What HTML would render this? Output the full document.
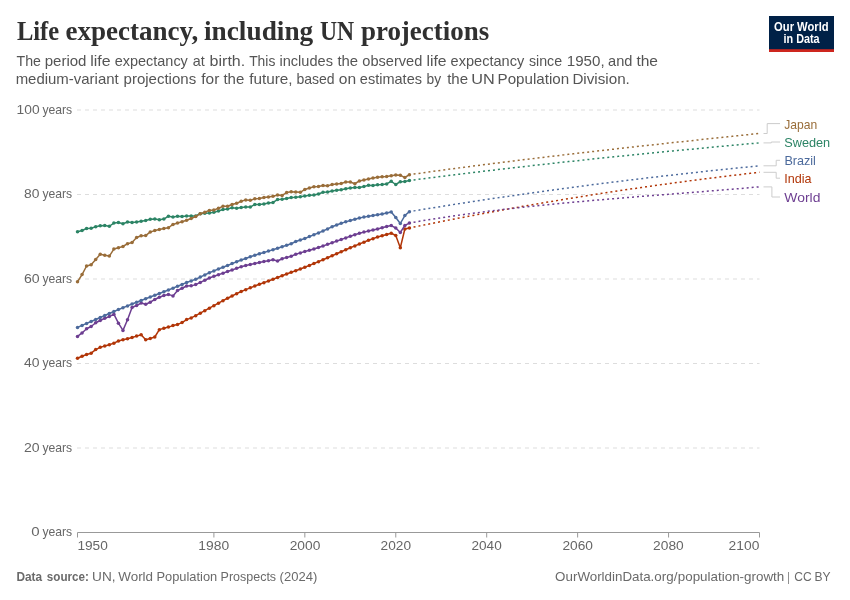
<!DOCTYPE html>
<html lang="en"><head><meta charset="utf-8"><title>Life expectancy, including UN projections</title>
<style>
html,body{margin:0;padding:0;background:#fff;}
body{width:850px;height:600px;overflow:hidden;font-family:"Liberation Sans",sans-serif;}
svg{display:block;}
.sans{font-family:"Liberation Sans",sans-serif;}
.serif{font-family:"Liberation Serif",serif;}
.ax{font-size:13px;fill:#666;}
.ft{font-size:13px;fill:#6a6a6a;}
.lb{font-size:13px;}
</style></head><body>
<svg width="850" height="600" viewBox="0 0 850 600" class="sans">
<rect width="850" height="600" fill="#fff"/>
<g><rect x="769" y="16" width="65" height="36" fill="#002147"/><rect x="769" y="49.2" width="65" height="2.8" fill="#ce261e"/>
<text x="774.1" y="30.7" font-size="11.9" font-weight="bold" fill="#fff" textLength="54.5" lengthAdjust="spacingAndGlyphs">Our World</text>
<text x="783.5" y="42.7" font-size="11.9" font-weight="bold" fill="#fff" textLength="36.1" lengthAdjust="spacingAndGlyphs">in Data</text></g>
<line x1="77" x2="759.5" y1="448" y2="448" stroke="#ddd" stroke-width="1" stroke-dasharray="4 4"/>
<line x1="77" x2="759.5" y1="363.5" y2="363.5" stroke="#ddd" stroke-width="1" stroke-dasharray="4 4"/>
<line x1="77" x2="759.5" y1="279" y2="279" stroke="#ddd" stroke-width="1" stroke-dasharray="4 4"/>
<line x1="77" x2="759.5" y1="194.5" y2="194.5" stroke="#ddd" stroke-width="1" stroke-dasharray="4 4"/>
<line x1="77" x2="759.5" y1="110" y2="110" stroke="#ddd" stroke-width="1" stroke-dasharray="4 4"/>
<path d="M77.5 537.5V532.5H759.5V537.5" fill="none" stroke="#999" stroke-width="1"/>
<line x1="213.9" x2="213.9" y1="532.5" y2="537.5" stroke="#999"/>
<line x1="304.83" x2="304.83" y1="532.5" y2="537.5" stroke="#999"/>
<line x1="395.77" x2="395.77" y1="532.5" y2="537.5" stroke="#999"/>
<line x1="486.7" x2="486.7" y1="532.5" y2="537.5" stroke="#999"/>
<line x1="577.63" x2="577.63" y1="532.5" y2="537.5" stroke="#999"/>
<line x1="668.57" x2="668.57" y1="532.5" y2="537.5" stroke="#999"/>
<path d="M409.41 228 L413.95 227.04 L418.5 226.12 L423.05 225.19 L427.59 224.28 L432.14 223.37 L436.69 222.46 L441.23 221.56 L445.78 220.67 L450.33 219.78 L454.87 218.9 L459.42 218.02 L463.97 217.15 L468.51 216.29 L473.06 215.43 L477.61 214.57 L482.15 213.72 L486.7 212.88 L491.25 212.04 L495.79 211.21 L500.34 210.39 L504.89 209.57 L509.43 208.75 L513.98 207.94 L518.53 207.14 L523.07 206.34 L527.62 205.55 L532.17 204.76 L536.71 203.98 L541.26 203.2 L545.81 202.43 L550.35 201.66 L554.9 200.9 L559.45 200.15 L563.99 199.4 L568.54 198.66 L573.09 197.92 L577.63 197.19 L582.18 196.46 L586.73 195.74 L591.27 195.02 L595.82 194.31 L600.37 193.61 L604.91 192.91 L609.46 192.21 L614.01 191.52 L618.55 190.84 L623.1 190.16 L627.65 189.49 L632.19 188.82 L636.74 188.16 L641.29 187.5 L645.83 186.85 L650.38 186.2 L654.93 185.56 L659.47 184.93 L664.02 184.3 L668.57 183.67 L673.11 183.05 L677.66 182.44 L682.21 181.83 L686.75 181.23 L691.3 180.63 L695.85 180.04 L700.39 179.45 L704.94 178.86 L709.49 178.29 L714.03 177.72 L718.58 177.15 L723.13 176.59 L727.67 176.03 L732.22 175.48 L736.77 174.93 L741.31 174.39 L745.86 173.86 L750.41 173.33 L754.95 172.8 L759.5 172.28" fill="none" stroke="#B13507" stroke-width="1.5" stroke-dasharray="2 3" stroke-dashoffset="0.8"/>
<path d="M409.41 223.05 L413.95 222.18 L418.5 221.42 L423.05 220.66 L427.59 219.92 L432.14 219.2 L436.69 218.49 L441.23 217.79 L445.78 217.11 L450.33 216.43 L454.87 215.78 L459.42 215.13 L463.97 214.49 L468.51 213.87 L473.06 213.26 L477.61 212.66 L482.15 212.07 L486.7 211.49 L491.25 210.92 L495.79 210.37 L500.34 209.82 L504.89 209.28 L509.43 208.75 L513.98 208.23 L518.53 207.72 L523.07 207.22 L527.62 206.73 L532.17 206.25 L536.71 205.77 L541.26 205.3 L545.81 204.84 L550.35 204.39 L554.9 203.94 L559.45 203.5 L563.99 203.06 L568.54 202.64 L573.09 202.21 L577.63 201.8 L582.18 201.39 L586.73 200.98 L591.27 200.58 L595.82 200.18 L600.37 199.79 L604.91 199.4 L609.46 199.02 L614.01 198.64 L618.55 198.26 L623.1 197.89 L627.65 197.52 L632.19 197.15 L636.74 196.78 L641.29 196.42 L645.83 196.06 L650.38 195.69 L654.93 195.33 L659.47 194.98 L664.02 194.62 L668.57 194.26 L673.11 193.9 L677.66 193.55 L682.21 193.19 L686.75 192.83 L691.3 192.47 L695.85 192.12 L700.39 191.75 L704.94 191.39 L709.49 191.03 L714.03 190.66 L718.58 190.29 L723.13 189.92 L727.67 189.55 L732.22 189.17 L736.77 188.79 L741.31 188.41 L745.86 188.02 L750.41 187.63 L754.95 187.24 L759.5 186.84" fill="none" stroke="#6D3E91" stroke-width="1.5" stroke-dasharray="2 3" stroke-dashoffset="0.8"/>
<path d="M409.41 211.65 L413.95 210.88 L418.5 210.14 L423.05 209.4 L427.59 208.66 L432.14 207.93 L436.69 207.2 L441.23 206.48 L445.78 205.76 L450.33 205.05 L454.87 204.34 L459.42 203.63 L463.97 202.93 L468.51 202.23 L473.06 201.54 L477.61 200.85 L482.15 200.16 L486.7 199.48 L491.25 198.8 L495.79 198.13 L500.34 197.46 L504.89 196.79 L509.43 196.13 L513.98 195.47 L518.53 194.82 L523.07 194.17 L527.62 193.53 L532.17 192.89 L536.71 192.25 L541.26 191.61 L545.81 190.98 L550.35 190.36 L554.9 189.74 L559.45 189.12 L563.99 188.51 L568.54 187.9 L573.09 187.29 L577.63 186.69 L582.18 186.09 L586.73 185.5 L591.27 184.91 L595.82 184.32 L600.37 183.74 L604.91 183.16 L609.46 182.59 L614.01 182.02 L618.55 181.45 L623.1 180.89 L627.65 180.33 L632.19 179.77 L636.74 179.22 L641.29 178.67 L645.83 178.13 L650.38 177.59 L654.93 177.06 L659.47 176.52 L664.02 176 L668.57 175.47 L673.11 174.95 L677.66 174.44 L682.21 173.92 L686.75 173.41 L691.3 172.91 L695.85 172.41 L700.39 171.91 L704.94 171.42 L709.49 170.93 L714.03 170.44 L718.58 169.96 L723.13 169.48 L727.67 169 L732.22 168.53 L736.77 168.06 L741.31 167.6 L745.86 167.14 L750.41 166.68 L754.95 166.23 L759.5 165.78" fill="none" stroke="#4C6A9C" stroke-width="1.5" stroke-dasharray="2 3" stroke-dashoffset="0.8"/>
<path d="M409.41 180.6 L413.95 179.95 L418.5 179.36 L423.05 178.77 L427.59 178.19 L432.14 177.61 L436.69 177.03 L441.23 176.45 L445.78 175.88 L450.33 175.32 L454.87 174.75 L459.42 174.19 L463.97 173.63 L468.51 173.08 L473.06 172.53 L477.61 171.98 L482.15 171.43 L486.7 170.89 L491.25 170.35 L495.79 169.81 L500.34 169.28 L504.89 168.75 L509.43 168.22 L513.98 167.7 L518.53 167.18 L523.07 166.66 L527.62 166.14 L532.17 165.63 L536.71 165.12 L541.26 164.61 L545.81 164.1 L550.35 163.6 L554.9 163.1 L559.45 162.6 L563.99 162.11 L568.54 161.62 L573.09 161.13 L577.63 160.64 L582.18 160.15 L586.73 159.67 L591.27 159.19 L595.82 158.71 L600.37 158.24 L604.91 157.76 L609.46 157.29 L614.01 156.83 L618.55 156.36 L623.1 155.9 L627.65 155.43 L632.19 154.97 L636.74 154.52 L641.29 154.06 L645.83 153.61 L650.38 153.16 L654.93 152.71 L659.47 152.26 L664.02 151.81 L668.57 151.37 L673.11 150.93 L677.66 150.49 L682.21 150.05 L686.75 149.61 L691.3 149.18 L695.85 148.75 L700.39 148.32 L704.94 147.89 L709.49 147.46 L714.03 147.03 L718.58 146.61 L723.13 146.19 L727.67 145.77 L732.22 145.35 L736.77 144.93 L741.31 144.51 L745.86 144.1 L750.41 143.68 L754.95 143.27 L759.5 142.86" fill="none" stroke="#2C8465" stroke-width="1.5" stroke-dasharray="2 3" stroke-dashoffset="0.8"/>
<path d="M409.41 174.75 L413.95 174.04 L418.5 173.41 L423.05 172.78 L427.59 172.15 L432.14 171.53 L436.69 170.91 L441.23 170.3 L445.78 169.69 L450.33 169.08 L454.87 168.47 L459.42 167.87 L463.97 167.27 L468.51 166.68 L473.06 166.09 L477.61 165.5 L482.15 164.91 L486.7 164.33 L491.25 163.75 L495.79 163.18 L500.34 162.6 L504.89 162.03 L509.43 161.47 L513.98 160.9 L518.53 160.34 L523.07 159.78 L527.62 159.23 L532.17 158.67 L536.71 158.12 L541.26 157.58 L545.81 157.03 L550.35 156.49 L554.9 155.95 L559.45 155.41 L563.99 154.87 L568.54 154.34 L573.09 153.81 L577.63 153.28 L582.18 152.75 L586.73 152.23 L591.27 151.71 L595.82 151.19 L600.37 150.67 L604.91 150.15 L609.46 149.64 L614.01 149.13 L618.55 148.62 L623.1 148.11 L627.65 147.6 L632.19 147.09 L636.74 146.59 L641.29 146.09 L645.83 145.59 L650.38 145.09 L654.93 144.59 L659.47 144.1 L664.02 143.6 L668.57 143.11 L673.11 142.61 L677.66 142.12 L682.21 141.63 L686.75 141.15 L691.3 140.66 L695.85 140.17 L700.39 139.69 L704.94 139.2 L709.49 138.72 L714.03 138.24 L718.58 137.75 L723.13 137.27 L727.67 136.79 L732.22 136.31 L736.77 135.83 L741.31 135.36 L745.86 134.88 L750.41 134.4 L754.95 133.93 L759.5 133.45" fill="none" stroke="#996D39" stroke-width="1.5" stroke-dasharray="2 3" stroke-dashoffset="0.8"/>
<g fill="#B13507" stroke="none"><path d="M77.5 358.3 L82.05 356.2 L86.59 354.55 L91.14 353.2 L95.69 349.6 L100.23 347.35 L104.78 346 L109.33 344.8 L113.87 343.15 L118.42 341.05 L122.97 339.85 L127.51 338.8 L132.06 337.45 L136.61 336.1 L141.15 334.75 L145.7 339.7 L150.25 338.5 L154.79 337 L159.34 329.65 L163.89 328.3 L168.43 327.1 L172.98 325.6 L177.53 324.4 L182.07 322.6 L186.62 319.6 L191.17 317.92 L195.71 315.63 L200.26 313.13 L204.81 310.63 L209.35 308.13 L213.9 305.63 L218.45 303.13 L222.99 300.63 L227.54 298.23 L232.09 295.96 L236.63 293.68 L241.18 291.48 L245.73 289.66 L250.27 287.84 L254.82 286.02 L259.37 284.32 L263.91 282.64 L268.46 280.96 L273.01 279.25 L277.55 277.52 L282.1 275.79 L286.65 274.04 L291.19 272.22 L295.74 270.75 L300.29 269.02 L304.83 267.3 L309.38 265.43 L313.93 263.55 L318.47 261.68 L323.02 259.8 L327.57 257.77 L332.11 255.75 L336.66 253.72 L341.21 251.7 L345.75 249.75 L350.3 247.8 L354.85 245.93 L359.39 244.05 L363.94 242.18 L368.49 240.3 L373.03 238.65 L377.58 237 L382.13 235.72 L386.67 234.45 L391.22 233.25 L395.77 235.5 L400.31 247.8 L404.86 229.05 L409.41 228" fill="none" stroke="#B13507" stroke-width="1.5" stroke-linejoin="round"/>
<circle cx="77.5" cy="358.3" r="1.75"/><circle cx="82.05" cy="356.2" r="1.75"/><circle cx="86.59" cy="354.55" r="1.75"/><circle cx="91.14" cy="353.2" r="1.75"/><circle cx="95.69" cy="349.6" r="1.75"/><circle cx="100.23" cy="347.35" r="1.75"/><circle cx="104.78" cy="346" r="1.75"/><circle cx="109.33" cy="344.8" r="1.75"/><circle cx="113.87" cy="343.15" r="1.75"/><circle cx="118.42" cy="341.05" r="1.75"/><circle cx="122.97" cy="339.85" r="1.75"/><circle cx="127.51" cy="338.8" r="1.75"/><circle cx="132.06" cy="337.45" r="1.75"/><circle cx="136.61" cy="336.1" r="1.75"/><circle cx="141.15" cy="334.75" r="1.75"/><circle cx="145.7" cy="339.7" r="1.75"/><circle cx="150.25" cy="338.5" r="1.75"/><circle cx="154.79" cy="337" r="1.75"/><circle cx="159.34" cy="329.65" r="1.75"/><circle cx="163.89" cy="328.3" r="1.75"/><circle cx="168.43" cy="327.1" r="1.75"/><circle cx="172.98" cy="325.6" r="1.75"/><circle cx="177.53" cy="324.4" r="1.75"/><circle cx="182.07" cy="322.6" r="1.75"/><circle cx="186.62" cy="319.6" r="1.75"/><circle cx="191.17" cy="317.92" r="1.75"/><circle cx="195.71" cy="315.63" r="1.75"/><circle cx="200.26" cy="313.13" r="1.75"/><circle cx="204.81" cy="310.63" r="1.75"/><circle cx="209.35" cy="308.13" r="1.75"/><circle cx="213.9" cy="305.63" r="1.75"/><circle cx="218.45" cy="303.13" r="1.75"/><circle cx="222.99" cy="300.63" r="1.75"/><circle cx="227.54" cy="298.23" r="1.75"/><circle cx="232.09" cy="295.96" r="1.75"/><circle cx="236.63" cy="293.68" r="1.75"/><circle cx="241.18" cy="291.48" r="1.75"/><circle cx="245.73" cy="289.66" r="1.75"/><circle cx="250.27" cy="287.84" r="1.75"/><circle cx="254.82" cy="286.02" r="1.75"/><circle cx="259.37" cy="284.32" r="1.75"/><circle cx="263.91" cy="282.64" r="1.75"/><circle cx="268.46" cy="280.96" r="1.75"/><circle cx="273.01" cy="279.25" r="1.75"/><circle cx="277.55" cy="277.52" r="1.75"/><circle cx="282.1" cy="275.79" r="1.75"/><circle cx="286.65" cy="274.04" r="1.75"/><circle cx="291.19" cy="272.22" r="1.75"/><circle cx="295.74" cy="270.75" r="1.75"/><circle cx="300.29" cy="269.02" r="1.75"/><circle cx="304.83" cy="267.3" r="1.75"/><circle cx="309.38" cy="265.43" r="1.75"/><circle cx="313.93" cy="263.55" r="1.75"/><circle cx="318.47" cy="261.68" r="1.75"/><circle cx="323.02" cy="259.8" r="1.75"/><circle cx="327.57" cy="257.77" r="1.75"/><circle cx="332.11" cy="255.75" r="1.75"/><circle cx="336.66" cy="253.72" r="1.75"/><circle cx="341.21" cy="251.7" r="1.75"/><circle cx="345.75" cy="249.75" r="1.75"/><circle cx="350.3" cy="247.8" r="1.75"/><circle cx="354.85" cy="245.93" r="1.75"/><circle cx="359.39" cy="244.05" r="1.75"/><circle cx="363.94" cy="242.18" r="1.75"/><circle cx="368.49" cy="240.3" r="1.75"/><circle cx="373.03" cy="238.65" r="1.75"/><circle cx="377.58" cy="237" r="1.75"/><circle cx="382.13" cy="235.72" r="1.75"/><circle cx="386.67" cy="234.45" r="1.75"/><circle cx="391.22" cy="233.25" r="1.75"/><circle cx="395.77" cy="235.5" r="1.75"/><circle cx="400.31" cy="247.8" r="1.75"/><circle cx="404.86" cy="229.05" r="1.75"/><circle cx="409.41" cy="228" r="1.75"/>
</g>
<g fill="#6D3E91" stroke="none"><path d="M77.5 336.4 L82.05 332.95 L86.59 328.75 L91.14 326.5 L95.69 322.75 L100.23 320.5 L104.78 318.25 L109.33 316.6 L113.87 314.2 L118.42 323.2 L122.97 330.4 L127.51 319.75 L132.06 307.45 L136.61 305.5 L141.15 303.1 L145.7 304.3 L150.25 302.2 L154.79 299.5 L159.34 297.25 L163.89 295.45 L168.43 294.4 L172.98 295.9 L177.53 290.5 L182.07 288.25 L186.62 286 L191.17 285.86 L195.71 284.6 L200.26 282.41 L204.81 280.23 L209.35 278.05 L213.9 276.31 L218.45 274.72 L222.99 273.13 L227.54 271.54 L232.09 269.94 L236.63 268.35 L241.18 266.8 L245.73 265.43 L250.27 264.4 L254.82 263.4 L259.37 262.5 L263.91 261.6 L268.46 260.7 L273.01 259.8 L277.55 261 L282.1 258.8 L286.65 257.4 L291.19 256.22 L295.74 254.25 L300.29 252.9 L304.83 251.55 L309.38 250.28 L313.93 249 L318.47 247.5 L323.02 246 L327.57 244.35 L332.11 242.7 L336.66 241.12 L341.21 239.55 L345.75 237.9 L350.3 236.25 L354.85 234.75 L359.39 233.25 L363.94 232.12 L368.49 231 L373.03 229.95 L377.58 228.9 L382.13 227.7 L386.67 226.5 L391.22 225.6 L395.77 228 L400.31 232.5 L404.86 225.45 L409.41 223.05" fill="none" stroke="#6D3E91" stroke-width="1.5" stroke-linejoin="round"/>
<circle cx="77.5" cy="336.4" r="1.75"/><circle cx="82.05" cy="332.95" r="1.75"/><circle cx="86.59" cy="328.75" r="1.75"/><circle cx="91.14" cy="326.5" r="1.75"/><circle cx="95.69" cy="322.75" r="1.75"/><circle cx="100.23" cy="320.5" r="1.75"/><circle cx="104.78" cy="318.25" r="1.75"/><circle cx="109.33" cy="316.6" r="1.75"/><circle cx="113.87" cy="314.2" r="1.75"/><circle cx="118.42" cy="323.2" r="1.75"/><circle cx="122.97" cy="330.4" r="1.75"/><circle cx="127.51" cy="319.75" r="1.75"/><circle cx="132.06" cy="307.45" r="1.75"/><circle cx="136.61" cy="305.5" r="1.75"/><circle cx="141.15" cy="303.1" r="1.75"/><circle cx="145.7" cy="304.3" r="1.75"/><circle cx="150.25" cy="302.2" r="1.75"/><circle cx="154.79" cy="299.5" r="1.75"/><circle cx="159.34" cy="297.25" r="1.75"/><circle cx="163.89" cy="295.45" r="1.75"/><circle cx="168.43" cy="294.4" r="1.75"/><circle cx="172.98" cy="295.9" r="1.75"/><circle cx="177.53" cy="290.5" r="1.75"/><circle cx="182.07" cy="288.25" r="1.75"/><circle cx="186.62" cy="286" r="1.75"/><circle cx="191.17" cy="285.86" r="1.75"/><circle cx="195.71" cy="284.6" r="1.75"/><circle cx="200.26" cy="282.41" r="1.75"/><circle cx="204.81" cy="280.23" r="1.75"/><circle cx="209.35" cy="278.05" r="1.75"/><circle cx="213.9" cy="276.31" r="1.75"/><circle cx="218.45" cy="274.72" r="1.75"/><circle cx="222.99" cy="273.13" r="1.75"/><circle cx="227.54" cy="271.54" r="1.75"/><circle cx="232.09" cy="269.94" r="1.75"/><circle cx="236.63" cy="268.35" r="1.75"/><circle cx="241.18" cy="266.8" r="1.75"/><circle cx="245.73" cy="265.43" r="1.75"/><circle cx="250.27" cy="264.4" r="1.75"/><circle cx="254.82" cy="263.4" r="1.75"/><circle cx="259.37" cy="262.5" r="1.75"/><circle cx="263.91" cy="261.6" r="1.75"/><circle cx="268.46" cy="260.7" r="1.75"/><circle cx="273.01" cy="259.8" r="1.75"/><circle cx="277.55" cy="261" r="1.75"/><circle cx="282.1" cy="258.8" r="1.75"/><circle cx="286.65" cy="257.4" r="1.75"/><circle cx="291.19" cy="256.22" r="1.75"/><circle cx="295.74" cy="254.25" r="1.75"/><circle cx="300.29" cy="252.9" r="1.75"/><circle cx="304.83" cy="251.55" r="1.75"/><circle cx="309.38" cy="250.28" r="1.75"/><circle cx="313.93" cy="249" r="1.75"/><circle cx="318.47" cy="247.5" r="1.75"/><circle cx="323.02" cy="246" r="1.75"/><circle cx="327.57" cy="244.35" r="1.75"/><circle cx="332.11" cy="242.7" r="1.75"/><circle cx="336.66" cy="241.12" r="1.75"/><circle cx="341.21" cy="239.55" r="1.75"/><circle cx="345.75" cy="237.9" r="1.75"/><circle cx="350.3" cy="236.25" r="1.75"/><circle cx="354.85" cy="234.75" r="1.75"/><circle cx="359.39" cy="233.25" r="1.75"/><circle cx="363.94" cy="232.12" r="1.75"/><circle cx="368.49" cy="231" r="1.75"/><circle cx="373.03" cy="229.95" r="1.75"/><circle cx="377.58" cy="228.9" r="1.75"/><circle cx="382.13" cy="227.7" r="1.75"/><circle cx="386.67" cy="226.5" r="1.75"/><circle cx="391.22" cy="225.6" r="1.75"/><circle cx="395.77" cy="228" r="1.75"/><circle cx="400.31" cy="232.5" r="1.75"/><circle cx="404.86" cy="225.45" r="1.75"/><circle cx="409.41" cy="223.05" r="1.75"/>
</g>
<g fill="#4C6A9C" stroke="none"><path d="M77.5 327.4 L82.05 325.41 L86.59 323.43 L91.14 321.44 L95.69 319.45 L100.23 317.46 L104.78 315.48 L109.33 313.49 L113.87 311.5 L118.42 309.62 L122.97 307.75 L127.51 305.88 L132.06 304 L136.61 302.26 L141.15 300.51 L145.7 298.77 L150.25 297.02 L154.79 295.28 L159.34 293.54 L163.89 291.79 L168.43 290.05 L172.98 288.18 L177.53 286.3 L182.07 284.43 L186.62 282.55 L191.17 280.89 L195.71 279.2 L200.26 277.06 L204.81 274.93 L209.35 272.79 L213.9 270.89 L218.45 269.07 L222.99 267.25 L227.54 265.43 L232.09 263.62 L236.63 261.8 L241.18 260.01 L245.73 258.42 L250.27 256.83 L254.82 255.24 L259.37 253.84 L263.91 252.48 L268.46 251.11 L273.01 249.67 L277.55 248.17 L282.1 246.67 L286.65 245.18 L291.19 243.73 L295.74 241.5 L300.29 240 L304.83 238.5 L309.38 236.62 L313.93 234.75 L318.47 232.88 L323.02 231 L327.57 228.9 L332.11 226.8 L336.66 225 L341.21 223.2 L345.75 221.85 L350.3 220.5 L354.85 219.22 L359.39 217.95 L363.94 217.12 L368.49 216.3 L373.03 215.55 L377.58 214.8 L382.13 213.9 L386.67 213 L391.22 212.1 L395.77 217.5 L400.31 223.5 L404.86 215.55 L409.41 211.65" fill="none" stroke="#4C6A9C" stroke-width="1.5" stroke-linejoin="round"/>
<circle cx="77.5" cy="327.4" r="1.75"/><circle cx="82.05" cy="325.41" r="1.75"/><circle cx="86.59" cy="323.43" r="1.75"/><circle cx="91.14" cy="321.44" r="1.75"/><circle cx="95.69" cy="319.45" r="1.75"/><circle cx="100.23" cy="317.46" r="1.75"/><circle cx="104.78" cy="315.48" r="1.75"/><circle cx="109.33" cy="313.49" r="1.75"/><circle cx="113.87" cy="311.5" r="1.75"/><circle cx="118.42" cy="309.62" r="1.75"/><circle cx="122.97" cy="307.75" r="1.75"/><circle cx="127.51" cy="305.88" r="1.75"/><circle cx="132.06" cy="304" r="1.75"/><circle cx="136.61" cy="302.26" r="1.75"/><circle cx="141.15" cy="300.51" r="1.75"/><circle cx="145.7" cy="298.77" r="1.75"/><circle cx="150.25" cy="297.02" r="1.75"/><circle cx="154.79" cy="295.28" r="1.75"/><circle cx="159.34" cy="293.54" r="1.75"/><circle cx="163.89" cy="291.79" r="1.75"/><circle cx="168.43" cy="290.05" r="1.75"/><circle cx="172.98" cy="288.18" r="1.75"/><circle cx="177.53" cy="286.3" r="1.75"/><circle cx="182.07" cy="284.43" r="1.75"/><circle cx="186.62" cy="282.55" r="1.75"/><circle cx="191.17" cy="280.89" r="1.75"/><circle cx="195.71" cy="279.2" r="1.75"/><circle cx="200.26" cy="277.06" r="1.75"/><circle cx="204.81" cy="274.93" r="1.75"/><circle cx="209.35" cy="272.79" r="1.75"/><circle cx="213.9" cy="270.89" r="1.75"/><circle cx="218.45" cy="269.07" r="1.75"/><circle cx="222.99" cy="267.25" r="1.75"/><circle cx="227.54" cy="265.43" r="1.75"/><circle cx="232.09" cy="263.62" r="1.75"/><circle cx="236.63" cy="261.8" r="1.75"/><circle cx="241.18" cy="260.01" r="1.75"/><circle cx="245.73" cy="258.42" r="1.75"/><circle cx="250.27" cy="256.83" r="1.75"/><circle cx="254.82" cy="255.24" r="1.75"/><circle cx="259.37" cy="253.84" r="1.75"/><circle cx="263.91" cy="252.48" r="1.75"/><circle cx="268.46" cy="251.11" r="1.75"/><circle cx="273.01" cy="249.67" r="1.75"/><circle cx="277.55" cy="248.17" r="1.75"/><circle cx="282.1" cy="246.67" r="1.75"/><circle cx="286.65" cy="245.18" r="1.75"/><circle cx="291.19" cy="243.73" r="1.75"/><circle cx="295.74" cy="241.5" r="1.75"/><circle cx="300.29" cy="240" r="1.75"/><circle cx="304.83" cy="238.5" r="1.75"/><circle cx="309.38" cy="236.62" r="1.75"/><circle cx="313.93" cy="234.75" r="1.75"/><circle cx="318.47" cy="232.88" r="1.75"/><circle cx="323.02" cy="231" r="1.75"/><circle cx="327.57" cy="228.9" r="1.75"/><circle cx="332.11" cy="226.8" r="1.75"/><circle cx="336.66" cy="225" r="1.75"/><circle cx="341.21" cy="223.2" r="1.75"/><circle cx="345.75" cy="221.85" r="1.75"/><circle cx="350.3" cy="220.5" r="1.75"/><circle cx="354.85" cy="219.22" r="1.75"/><circle cx="359.39" cy="217.95" r="1.75"/><circle cx="363.94" cy="217.12" r="1.75"/><circle cx="368.49" cy="216.3" r="1.75"/><circle cx="373.03" cy="215.55" r="1.75"/><circle cx="377.58" cy="214.8" r="1.75"/><circle cx="382.13" cy="213.9" r="1.75"/><circle cx="386.67" cy="213" r="1.75"/><circle cx="391.22" cy="212.1" r="1.75"/><circle cx="395.77" cy="217.5" r="1.75"/><circle cx="400.31" cy="223.5" r="1.75"/><circle cx="404.86" cy="215.55" r="1.75"/><circle cx="409.41" cy="211.65" r="1.75"/>
</g>
<g fill="#2C8465" stroke="none"><path d="M77.5 231.8 L82.05 230.45 L86.59 228.5 L91.14 228.2 L95.69 226.7 L100.23 225.65 L104.78 225.5 L109.33 226.25 L113.87 223.1 L118.42 222.5 L122.97 223.7 L127.51 222.05 L132.06 222.5 L136.61 222.05 L141.15 221.15 L145.7 220.4 L150.25 219.2 L154.79 218.9 L159.34 219.65 L163.89 219.05 L168.43 216.2 L172.98 217.1 L177.53 216.35 L182.07 216.4 L186.62 215.95 L191.17 216.1 L195.71 215.95 L200.26 213.7 L204.81 213.25 L209.35 213.1 L213.9 212.35 L218.45 211 L222.99 209.5 L227.54 208.9 L232.09 207.7 L236.63 208.3 L241.18 207.4 L245.73 206.95 L250.27 207.1 L254.82 204.4 L259.37 204.4 L263.91 203.95 L268.46 202.9 L273.01 202.45 L277.55 199.6 L282.1 199.3 L286.65 198.4 L291.19 197.5 L295.74 197.25 L300.29 196.65 L304.83 195.9 L309.38 195.3 L313.93 195 L318.47 193.95 L323.02 192.3 L327.57 192 L332.11 190.95 L336.66 190.35 L341.21 189.75 L345.75 188.85 L350.3 188.1 L354.85 187.5 L359.39 187.5 L363.94 186.6 L368.49 185.25 L373.03 185.55 L377.58 184.8 L382.13 184.5 L386.67 183.9 L391.22 181.35 L395.77 184.5 L400.31 181.65 L404.86 181.5 L409.41 180.6" fill="none" stroke="#2C8465" stroke-width="1.5" stroke-linejoin="round"/>
<circle cx="77.5" cy="231.8" r="1.75"/><circle cx="82.05" cy="230.45" r="1.75"/><circle cx="86.59" cy="228.5" r="1.75"/><circle cx="91.14" cy="228.2" r="1.75"/><circle cx="95.69" cy="226.7" r="1.75"/><circle cx="100.23" cy="225.65" r="1.75"/><circle cx="104.78" cy="225.5" r="1.75"/><circle cx="109.33" cy="226.25" r="1.75"/><circle cx="113.87" cy="223.1" r="1.75"/><circle cx="118.42" cy="222.5" r="1.75"/><circle cx="122.97" cy="223.7" r="1.75"/><circle cx="127.51" cy="222.05" r="1.75"/><circle cx="132.06" cy="222.5" r="1.75"/><circle cx="136.61" cy="222.05" r="1.75"/><circle cx="141.15" cy="221.15" r="1.75"/><circle cx="145.7" cy="220.4" r="1.75"/><circle cx="150.25" cy="219.2" r="1.75"/><circle cx="154.79" cy="218.9" r="1.75"/><circle cx="159.34" cy="219.65" r="1.75"/><circle cx="163.89" cy="219.05" r="1.75"/><circle cx="168.43" cy="216.2" r="1.75"/><circle cx="172.98" cy="217.1" r="1.75"/><circle cx="177.53" cy="216.35" r="1.75"/><circle cx="182.07" cy="216.4" r="1.75"/><circle cx="186.62" cy="215.95" r="1.75"/><circle cx="191.17" cy="216.1" r="1.75"/><circle cx="195.71" cy="215.95" r="1.75"/><circle cx="200.26" cy="213.7" r="1.75"/><circle cx="204.81" cy="213.25" r="1.75"/><circle cx="209.35" cy="213.1" r="1.75"/><circle cx="213.9" cy="212.35" r="1.75"/><circle cx="218.45" cy="211" r="1.75"/><circle cx="222.99" cy="209.5" r="1.75"/><circle cx="227.54" cy="208.9" r="1.75"/><circle cx="232.09" cy="207.7" r="1.75"/><circle cx="236.63" cy="208.3" r="1.75"/><circle cx="241.18" cy="207.4" r="1.75"/><circle cx="245.73" cy="206.95" r="1.75"/><circle cx="250.27" cy="207.1" r="1.75"/><circle cx="254.82" cy="204.4" r="1.75"/><circle cx="259.37" cy="204.4" r="1.75"/><circle cx="263.91" cy="203.95" r="1.75"/><circle cx="268.46" cy="202.9" r="1.75"/><circle cx="273.01" cy="202.45" r="1.75"/><circle cx="277.55" cy="199.6" r="1.75"/><circle cx="282.1" cy="199.3" r="1.75"/><circle cx="286.65" cy="198.4" r="1.75"/><circle cx="291.19" cy="197.5" r="1.75"/><circle cx="295.74" cy="197.25" r="1.75"/><circle cx="300.29" cy="196.65" r="1.75"/><circle cx="304.83" cy="195.9" r="1.75"/><circle cx="309.38" cy="195.3" r="1.75"/><circle cx="313.93" cy="195" r="1.75"/><circle cx="318.47" cy="193.95" r="1.75"/><circle cx="323.02" cy="192.3" r="1.75"/><circle cx="327.57" cy="192" r="1.75"/><circle cx="332.11" cy="190.95" r="1.75"/><circle cx="336.66" cy="190.35" r="1.75"/><circle cx="341.21" cy="189.75" r="1.75"/><circle cx="345.75" cy="188.85" r="1.75"/><circle cx="350.3" cy="188.1" r="1.75"/><circle cx="354.85" cy="187.5" r="1.75"/><circle cx="359.39" cy="187.5" r="1.75"/><circle cx="363.94" cy="186.6" r="1.75"/><circle cx="368.49" cy="185.25" r="1.75"/><circle cx="373.03" cy="185.55" r="1.75"/><circle cx="377.58" cy="184.8" r="1.75"/><circle cx="382.13" cy="184.5" r="1.75"/><circle cx="386.67" cy="183.9" r="1.75"/><circle cx="391.22" cy="181.35" r="1.75"/><circle cx="395.77" cy="184.5" r="1.75"/><circle cx="400.31" cy="181.65" r="1.75"/><circle cx="404.86" cy="181.5" r="1.75"/><circle cx="409.41" cy="180.6" r="1.75"/>
</g>
<g fill="#996D39" stroke="none"><path d="M77.5 281.75 L82.05 274.55 L86.59 266 L91.14 264.8 L95.69 259.55 L100.23 254.3 L104.78 255.2 L109.33 256.1 L113.87 249.05 L118.42 247.7 L122.97 246.5 L127.51 243.65 L132.06 242.6 L136.61 237.5 L141.15 235.7 L145.7 235.55 L150.25 231.95 L154.79 230.6 L159.34 229.4 L163.89 228.5 L168.43 227.75 L172.98 224.45 L177.53 222.95 L182.07 221.8 L186.62 220.3 L191.17 218.5 L195.71 216.55 L200.26 213.7 L204.81 212.2 L209.35 210.4 L213.9 210.1 L218.45 208.3 L222.99 206.35 L227.54 206.2 L232.09 204.55 L236.63 203.35 L241.18 201.25 L245.73 199.9 L250.27 200.2 L254.82 198.85 L259.37 198.4 L263.91 197.5 L268.46 196.9 L273.01 196.3 L277.55 195.1 L282.1 195.4 L286.65 192.55 L291.19 191.8 L295.74 192 L300.29 192.3 L304.83 189.45 L309.38 187.95 L313.93 186.75 L318.47 186.45 L323.02 185.4 L327.57 185.85 L332.11 184.5 L336.66 183.9 L341.21 183.45 L345.75 181.95 L350.3 181.95 L354.85 183.75 L359.39 180.9 L363.94 180 L368.49 179.1 L373.03 178.05 L377.58 177.15 L382.13 176.7 L386.67 176.4 L391.22 175.8 L395.77 175.05 L400.31 175.35 L404.86 177.45 L409.41 174.75" fill="none" stroke="#996D39" stroke-width="1.5" stroke-linejoin="round"/>
<circle cx="77.5" cy="281.75" r="1.75"/><circle cx="82.05" cy="274.55" r="1.75"/><circle cx="86.59" cy="266" r="1.75"/><circle cx="91.14" cy="264.8" r="1.75"/><circle cx="95.69" cy="259.55" r="1.75"/><circle cx="100.23" cy="254.3" r="1.75"/><circle cx="104.78" cy="255.2" r="1.75"/><circle cx="109.33" cy="256.1" r="1.75"/><circle cx="113.87" cy="249.05" r="1.75"/><circle cx="118.42" cy="247.7" r="1.75"/><circle cx="122.97" cy="246.5" r="1.75"/><circle cx="127.51" cy="243.65" r="1.75"/><circle cx="132.06" cy="242.6" r="1.75"/><circle cx="136.61" cy="237.5" r="1.75"/><circle cx="141.15" cy="235.7" r="1.75"/><circle cx="145.7" cy="235.55" r="1.75"/><circle cx="150.25" cy="231.95" r="1.75"/><circle cx="154.79" cy="230.6" r="1.75"/><circle cx="159.34" cy="229.4" r="1.75"/><circle cx="163.89" cy="228.5" r="1.75"/><circle cx="168.43" cy="227.75" r="1.75"/><circle cx="172.98" cy="224.45" r="1.75"/><circle cx="177.53" cy="222.95" r="1.75"/><circle cx="182.07" cy="221.8" r="1.75"/><circle cx="186.62" cy="220.3" r="1.75"/><circle cx="191.17" cy="218.5" r="1.75"/><circle cx="195.71" cy="216.55" r="1.75"/><circle cx="200.26" cy="213.7" r="1.75"/><circle cx="204.81" cy="212.2" r="1.75"/><circle cx="209.35" cy="210.4" r="1.75"/><circle cx="213.9" cy="210.1" r="1.75"/><circle cx="218.45" cy="208.3" r="1.75"/><circle cx="222.99" cy="206.35" r="1.75"/><circle cx="227.54" cy="206.2" r="1.75"/><circle cx="232.09" cy="204.55" r="1.75"/><circle cx="236.63" cy="203.35" r="1.75"/><circle cx="241.18" cy="201.25" r="1.75"/><circle cx="245.73" cy="199.9" r="1.75"/><circle cx="250.27" cy="200.2" r="1.75"/><circle cx="254.82" cy="198.85" r="1.75"/><circle cx="259.37" cy="198.4" r="1.75"/><circle cx="263.91" cy="197.5" r="1.75"/><circle cx="268.46" cy="196.9" r="1.75"/><circle cx="273.01" cy="196.3" r="1.75"/><circle cx="277.55" cy="195.1" r="1.75"/><circle cx="282.1" cy="195.4" r="1.75"/><circle cx="286.65" cy="192.55" r="1.75"/><circle cx="291.19" cy="191.8" r="1.75"/><circle cx="295.74" cy="192" r="1.75"/><circle cx="300.29" cy="192.3" r="1.75"/><circle cx="304.83" cy="189.45" r="1.75"/><circle cx="309.38" cy="187.95" r="1.75"/><circle cx="313.93" cy="186.75" r="1.75"/><circle cx="318.47" cy="186.45" r="1.75"/><circle cx="323.02" cy="185.4" r="1.75"/><circle cx="327.57" cy="185.85" r="1.75"/><circle cx="332.11" cy="184.5" r="1.75"/><circle cx="336.66" cy="183.9" r="1.75"/><circle cx="341.21" cy="183.45" r="1.75"/><circle cx="345.75" cy="181.95" r="1.75"/><circle cx="350.3" cy="181.95" r="1.75"/><circle cx="354.85" cy="183.75" r="1.75"/><circle cx="359.39" cy="180.9" r="1.75"/><circle cx="363.94" cy="180" r="1.75"/><circle cx="368.49" cy="179.1" r="1.75"/><circle cx="373.03" cy="178.05" r="1.75"/><circle cx="377.58" cy="177.15" r="1.75"/><circle cx="382.13" cy="176.7" r="1.75"/><circle cx="386.67" cy="176.4" r="1.75"/><circle cx="391.22" cy="175.8" r="1.75"/><circle cx="395.77" cy="175.05" r="1.75"/><circle cx="400.31" cy="175.35" r="1.75"/><circle cx="404.86" cy="177.45" r="1.75"/><circle cx="409.41" cy="174.75" r="1.75"/>
</g>
<path d="M763.5 133.5 H767.2 V123.6 H780" fill="none" stroke="#ccc" stroke-width="1"/>
<path d="M763.5 142.9 H771.3 V142 H780" fill="none" stroke="#ccc" stroke-width="1"/>
<path d="M763.5 165.8 H776.2 V160.3 H780" fill="none" stroke="#ccc" stroke-width="1"/>
<path d="M763.5 172.3 H776.2 V178.2 H780" fill="none" stroke="#ccc" stroke-width="1"/>
<path d="M763.5 186.9 H771.9 V197 H780" fill="none" stroke="#ccc" stroke-width="1"/>
<text y="66.4" font-size="15" fill="#555"><tspan x="16.5" textLength="24.41" lengthAdjust="spacingAndGlyphs">The</tspan> <tspan x="44.66" textLength="41.83" lengthAdjust="spacingAndGlyphs">period</tspan> <tspan x="90.3" textLength="20.35" lengthAdjust="spacingAndGlyphs">life</tspan> <tspan x="114.71" textLength="73.16" lengthAdjust="spacingAndGlyphs">expectancy</tspan> <tspan x="192.81" textLength="11.98" lengthAdjust="spacingAndGlyphs">at</tspan> <tspan x="209.62" textLength="35.62" lengthAdjust="spacingAndGlyphs">birth.</tspan> <tspan x="249.17" textLength="26.17" lengthAdjust="spacingAndGlyphs">This</tspan> <tspan x="279.52" textLength="53.42" lengthAdjust="spacingAndGlyphs">includes</tspan> <tspan x="337.47" textLength="20.68" lengthAdjust="spacingAndGlyphs">the</tspan> <tspan x="362.28" textLength="60.06" lengthAdjust="spacingAndGlyphs">observed</tspan> <tspan x="426.41" textLength="20.11" lengthAdjust="spacingAndGlyphs">life</tspan> <tspan x="450.6" textLength="73.62" lengthAdjust="spacingAndGlyphs">expectancy</tspan> <tspan x="528.9" textLength="33.17" lengthAdjust="spacingAndGlyphs">since</tspan> <tspan x="566.75" textLength="37.89" lengthAdjust="spacingAndGlyphs">1950,</tspan> <tspan x="608.02" textLength="24.36" lengthAdjust="spacingAndGlyphs">and</tspan> <tspan x="636.4" textLength="21.64" lengthAdjust="spacingAndGlyphs">the</tspan></text>
<text y="84.4" font-size="15" fill="#555"><tspan x="15.65" textLength="103.03" lengthAdjust="spacingAndGlyphs">medium-variant</tspan> <tspan x="123.54" textLength="72.64" lengthAdjust="spacingAndGlyphs">projections</tspan> <tspan x="201.26" textLength="18.05" lengthAdjust="spacingAndGlyphs">for</tspan> <tspan x="223.4" textLength="20.86" lengthAdjust="spacingAndGlyphs">the</tspan> <tspan x="249.17" textLength="43.42" lengthAdjust="spacingAndGlyphs">future,</tspan> <tspan x="296.38" textLength="38.26" lengthAdjust="spacingAndGlyphs">based</tspan> <tspan x="338.82" textLength="17.32" lengthAdjust="spacingAndGlyphs">on</tspan> <tspan x="359.85" textLength="62.15" lengthAdjust="spacingAndGlyphs">estimates</tspan> <tspan x="426.48" textLength="14.57" lengthAdjust="spacingAndGlyphs">by</tspan> <tspan x="447.16" textLength="20.89" lengthAdjust="spacingAndGlyphs">the</tspan> <tspan x="471.37" textLength="23.49" lengthAdjust="spacingAndGlyphs">UN</tspan> <tspan x="497.6" textLength="71.57" lengthAdjust="spacingAndGlyphs">Population</tspan> <tspan x="572.4" textLength="57.45" lengthAdjust="spacingAndGlyphs">Division.</tspan></text>
<text y="39.7" class="serif" font-size="27.6" font-weight="bold" fill="#303030"><tspan x="16.89" textLength="42.33" lengthAdjust="spacingAndGlyphs">Life</tspan> <tspan x="65.43" textLength="132.86" lengthAdjust="spacingAndGlyphs">expectancy,</tspan> <tspan x="203.97" textLength="109.29" lengthAdjust="spacingAndGlyphs">including</tspan> <tspan x="319.92" textLength="34.18" lengthAdjust="spacingAndGlyphs">UN</tspan> <tspan x="360.94" textLength="128.22" lengthAdjust="spacingAndGlyphs">projections</tspan></text>
<text y="580.7" class="ft" font-weight="bold"><tspan x="16.38" textLength="25.69" lengthAdjust="spacingAndGlyphs">Data</tspan> <tspan x="46.82" textLength="42.09" lengthAdjust="spacingAndGlyphs">source:</tspan></text>
<text y="580.7" class="ft"><tspan x="92.12" textLength="23.45" lengthAdjust="spacingAndGlyphs">UN,</tspan> <tspan x="118.3" textLength="34.73" lengthAdjust="spacingAndGlyphs">World</tspan> <tspan x="156.46" textLength="60.81" lengthAdjust="spacingAndGlyphs">Population</tspan> <tspan x="220.59" textLength="55.54" lengthAdjust="spacingAndGlyphs">Prospects</tspan> <tspan x="279.6" textLength="37.66" lengthAdjust="spacingAndGlyphs">(2024)</tspan></text>
<text y="580.7" class="ft"><tspan x="555.14" textLength="122.23" lengthAdjust="spacingAndGlyphs">OurWorldinData.org/</tspan> <tspan x="677.78" textLength="106.52" lengthAdjust="spacingAndGlyphs">population-growth</tspan> <tspan x="787.5" textLength="2.3" lengthAdjust="spacingAndGlyphs">|</tspan> <tspan x="794.18" textLength="17.43" lengthAdjust="spacingAndGlyphs">CC</tspan> <tspan x="814.52" textLength="16.09" lengthAdjust="spacingAndGlyphs">BY</tspan></text>
<text y="536.1" class="ax"><tspan x="31.24" textLength="8.36" lengthAdjust="spacingAndGlyphs">0</tspan> <tspan x="42.43" textLength="29.79" lengthAdjust="spacingAndGlyphs">years</tspan></text>
<text y="451.6" class="ax"><tspan x="24.04" textLength="15.65" lengthAdjust="spacingAndGlyphs">20</tspan> <tspan x="42.43" textLength="29.79" lengthAdjust="spacingAndGlyphs">years</tspan></text>
<text y="367.1" class="ax"><tspan x="24.11" textLength="15.54" lengthAdjust="spacingAndGlyphs">40</tspan> <tspan x="42.43" textLength="29.79" lengthAdjust="spacingAndGlyphs">years</tspan></text>
<text y="282.6" class="ax"><tspan x="23.94" textLength="15.71" lengthAdjust="spacingAndGlyphs">60</tspan> <tspan x="42.43" textLength="29.79" lengthAdjust="spacingAndGlyphs">years</tspan></text>
<text y="198.1" class="ax"><tspan x="24.11" textLength="15.42" lengthAdjust="spacingAndGlyphs">80</tspan> <tspan x="42.43" textLength="29.79" lengthAdjust="spacingAndGlyphs">years</tspan></text>
<text y="113.6" class="ax"><tspan x="16.6" textLength="23.04" lengthAdjust="spacingAndGlyphs">100</tspan> <tspan x="42.43" textLength="29.79" lengthAdjust="spacingAndGlyphs">years</tspan></text>
<text y="550.35" class="ax"><tspan x="77.41" textLength="30.43" lengthAdjust="spacingAndGlyphs">1950</tspan></text>
<text y="550.35" class="ax"><tspan x="198.32" textLength="30.79" lengthAdjust="spacingAndGlyphs">1980</tspan></text>
<text y="550.35" class="ax"><tspan x="289.68" textLength="30.63" lengthAdjust="spacingAndGlyphs">2000</tspan></text>
<text y="550.35" class="ax"><tspan x="380.6" textLength="30.43" lengthAdjust="spacingAndGlyphs">2020</tspan></text>
<text y="550.35" class="ax"><tspan x="471.53" textLength="30.22" lengthAdjust="spacingAndGlyphs">2040</tspan></text>
<text y="550.35" class="ax"><tspan x="562.45" textLength="30.56" lengthAdjust="spacingAndGlyphs">2060</tspan></text>
<text y="550.35" class="ax"><tspan x="653.13" textLength="30.6" lengthAdjust="spacingAndGlyphs">2080</tspan></text>
<text y="550.35" class="ax"><tspan x="728.62" textLength="30.71" lengthAdjust="spacingAndGlyphs">2100</tspan></text>
<text y="128.5" class="lb" fill="#996D39"><tspan x="784.31" textLength="32.98" lengthAdjust="spacingAndGlyphs">Japan</tspan></text>
<text y="146.8" class="lb" fill="#2C8465"><tspan x="784.22" textLength="45.98" lengthAdjust="spacingAndGlyphs">Sweden</tspan></text>
<text y="165" class="lb" fill="#4C6A9C"><tspan x="784.38" textLength="31.56" lengthAdjust="spacingAndGlyphs">Brazil</tspan></text>
<text y="183.2" class="lb" fill="#B13507"><tspan x="784.21" textLength="27.26" lengthAdjust="spacingAndGlyphs">India</tspan></text>
<text y="201.5" class="lb" fill="#6D3E91"><tspan x="784.38" textLength="36.03" lengthAdjust="spacingAndGlyphs">World</tspan></text>
</svg></body></html>
